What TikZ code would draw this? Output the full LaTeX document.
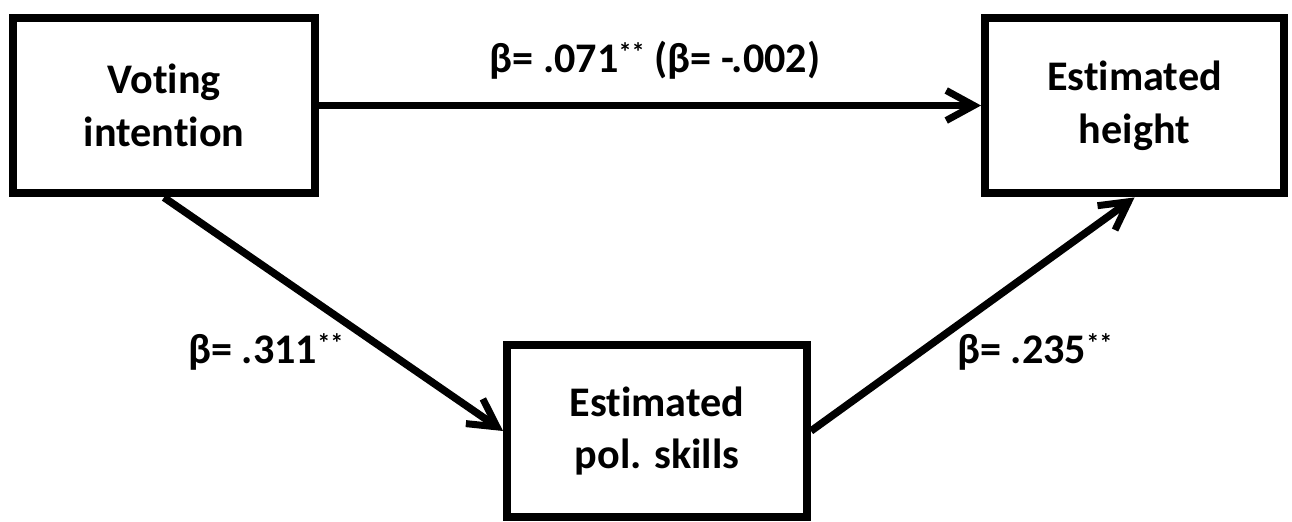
\documentclass[tikz,border=0pt]{standalone}
\usepackage{fontspec}
\setmainfont{Carlito}[Ligatures=NoCommon]
\usetikzlibrary{arrows.meta}

\newcommand{\sigstars}{\raisebox{6pt}{\fontsize{15}{15}\selectfont**}}

\tikzset{
  varbox/.style={draw, line width=1.6mm, align=center, inner sep=0pt,
                 font=\bfseries\fontsize{24}{30}\selectfont},
  path/.style={line width=1.5mm, -{Straight Barb[length=5.5mm,width=6mm,line width=1.4mm]}},
  coef/.style={font=\bfseries\fontsize{24}{30}\selectfont}
}

\begin{document}
\begin{tikzpicture}[x=0.02cm,y=-0.02cm]
\useasboundingbox (0,0) rectangle (1292,521);

%% the three variables
\node[varbox, minimum width=6.04cm, minimum height=3.52cm] (vote) at (164,105.5) {Voting\\intention};
\node[varbox, minimum width=5.98cm, minimum height=3.52cm] (height) at (1134.5,105.5) {Estimated\\height};
\node[varbox, minimum width=6cm, minimum height=3.43cm] (skills) at (657,431) {Estimated\\pol. skills};

%% paths
\draw[path] (vote.east) -- (height.west);
\draw[path] (vote.south) -- (skills.west);
\draw[path] (skills.east) -- (height.south);

%% coefficients
\node[coef] (bdirect) at (655,60) {β= .071\sigstars{} (β= -.002)};
\node[coef] (bvote) at (266,352) {β= .311\sigstars};
\node[coef] (bskills) at (1035,352) {β= .235\sigstars};
\end{tikzpicture}
\end{document}
